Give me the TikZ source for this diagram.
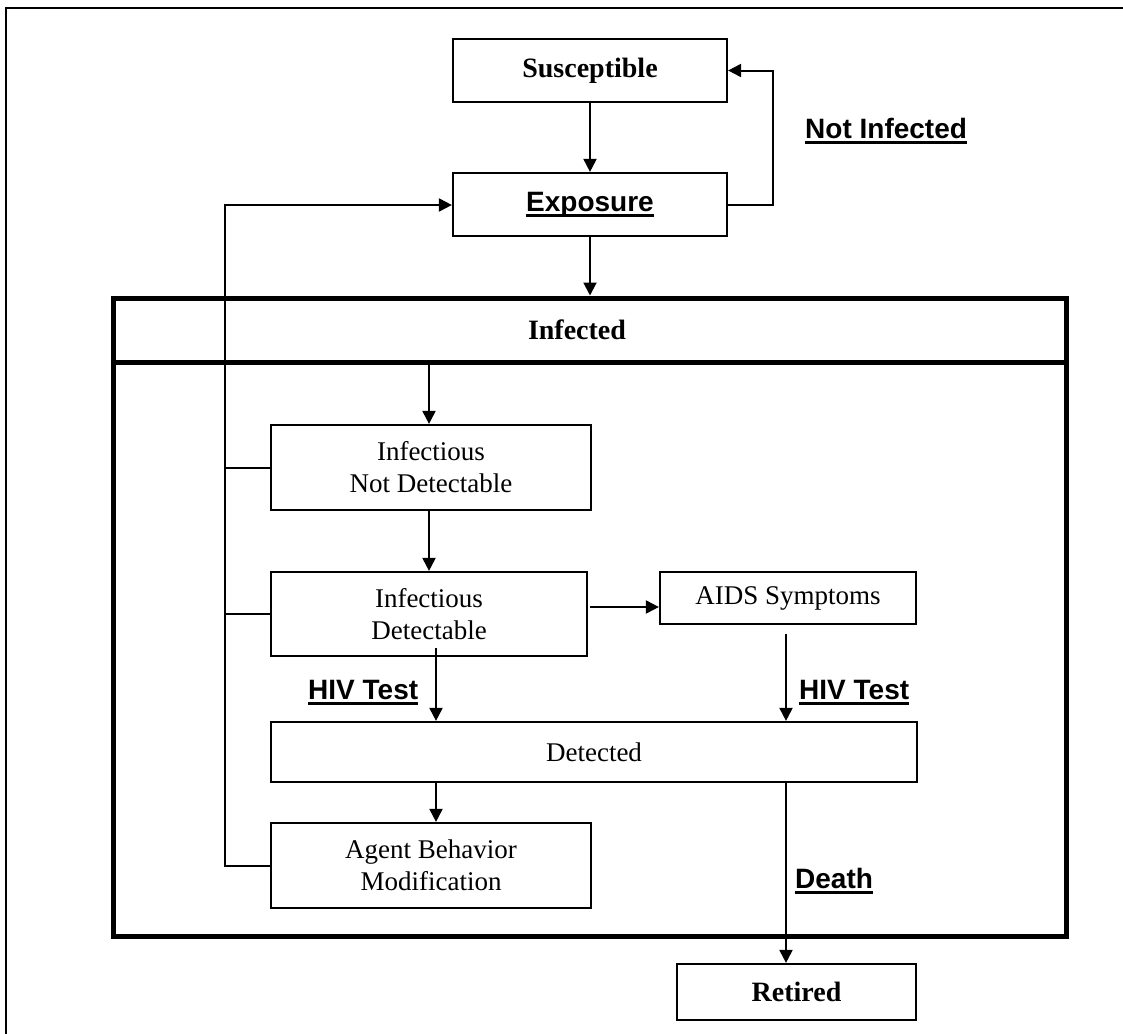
\documentclass[tikz,border=0pt]{standalone}
\usepackage{fontspec}
\setmainfont{Liberation Serif}
\setsansfont{Liberation Sans}
\usetikzlibrary{arrows.meta}
% underlined label with a heavy rule
\newcommand\ulbox[1]{\setbox0\hbox{#1}\leavevmode\rlap{\rule[-6pt]{\wd0}{2.8pt}}\box0}
\begin{document}
\begin{tikzpicture}[x=1pt,y=-1pt,
  box/.style={draw,line width=2.2pt,inner sep=0pt,align=center,font=\fontsize{27}{32}\selectfont},
  boldbox/.style={box,font=\fontsize{28}{32}\selectfont\bfseries},
  frame/.style={draw,line width=5pt,inner sep=0pt},
  conn/.style={line width=2pt},
  arr/.style={conn,-{Triangle[length=13pt,width=13pt]}},
  lab/.style={font=\fontsize{28}{33}\selectfont\sffamily\bfseries,inner sep=0pt,anchor=base west}]
\useasboundingbox (0,0) rectangle (1123,1033);
% page frame
\draw[line width=2.5pt] (6,1040) -- (6,8) -- (1130,8);

% states outside the infected block
\node[boldbox,minimum width=274,minimum height=63] (sus) at (590,70.5) {Susceptible};
\node[box,minimum width=274,minimum height=63,font=\fontsize{28}{32}\selectfont] (exp) at (590,204.5) {\ulbox{\sffamily\bfseries Exposure}};
\node[boldbox,minimum width=239,minimum height=56] (ret) at (796.5,992) {Retired};

% infected block with its header
\node[frame,minimum width=953,minimum height=638] (inf) at (589.5,617) {};
\node[frame,minimum width=953,minimum height=64] (infhead) at (589.5,330) {};
\node[font=\fontsize{28}{32}\selectfont\bfseries] (infl) at (577,330) {Infected};

% states inside the infected block
\node[box,minimum width=320,minimum height=85] (ind) at (431,467.5) {Infectious\\Not Detectable};
\node[box,minimum width=316,minimum height=84] (idt) at (429,614) {Infectious\\Detectable};
\node[box,minimum width=256,minimum height=52] (aids) at (788,598) {AIDS Symptoms};
\node[box,minimum width=646,minimum height=60] (det) at (594,752) {Detected};
\node[box,minimum width=320,minimum height=85] (abm) at (431,865.5) {Agent Behavior\\Modification};

% connector end points
\coordinate (loop) at (773,0);
\coordinate (c1) at (429,0);
\coordinate (hl) at (436,648);
\coordinate (hr) at (786,634);
\coordinate (fb) at (225,205);

% transitions
\draw[arr] (sus.south) -- (exp.north);
\draw[arr] (exp.east) -| (loop |- sus.east) -- (sus.east);
\draw[arr] (exp.south) -- (exp.south |- infhead.north);
\draw[arr] (c1 |- infhead.south) -- (c1 |- ind.north);
\draw[arr] (c1 |- ind.south) -- (c1 |- idt.north);
\draw[arr] (590,607) -- (aids.west |- 0,607);
\draw[arr] (hl) -- (hl |- det.north);
\draw[arr] (hr) -- (hr |- det.north);
\draw[arr] (det.south -| hl) -- (abm.north -| hl);
\draw[arr] (det.south -| hr) -- (ret.north -| hr);

% feedback from the infected states to exposure
\draw[arr] (abm.west) -| (fb) -- (fb -| exp.west);
\draw[conn] (ind.west) -- (ind.west -| fb);
\draw[conn] (idt.west) -- (idt.west -| fb);

% transition labels
\node[lab] (lni) at (805,138) {\ulbox{Not Infected}};
\node[lab] (lh1) at (308,699) {\ulbox{HIV Test}};
\node[lab] (lh2) at (799,699) {\ulbox{HIV Test}};
\node[lab] (ld) at (795,888) {\ulbox{Death}};
\end{tikzpicture}
\end{document}
